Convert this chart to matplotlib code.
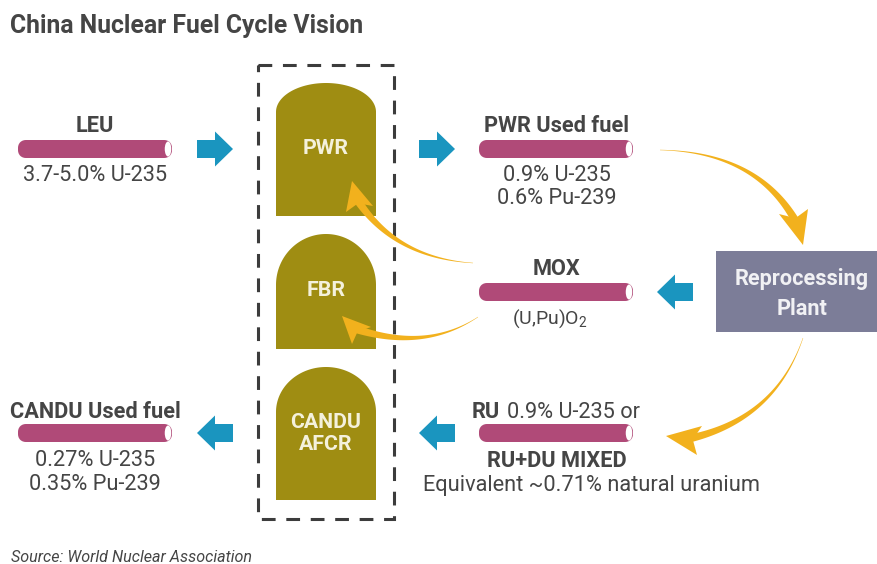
import numpy as np
import matplotlib
matplotlib.use("Agg")
import matplotlib.pyplot as plt
from matplotlib.patches import Polygon, Rectangle, FancyBboxPatch, Ellipse

plt.rcParams['font.family'] = ['Roboto', 'DejaVu Sans']
plt.rcParams['mathtext.fontset'] = 'custom'
plt.rcParams['mathtext.rm'] = 'Roboto'

TXT = '#454545'
ROD = '#b04a78'
BLUE = '#1a95bf'
OLIVE = '#9f8d12'
GOLD = '#f2b11d'
GREY = '#7c7d98'

# rods : left x, top y
rod_x = [18, 479, 479, 479, 18]
rod_y = [140, 140, 283, 424, 424]

# reactors : label, top y, bottom y, shoulder y, label y
reactor_names = ['PWR', 'FBR', 'CANDU\nAFCR']
reactor_top = [83, 234, 367]
reactor_bot = [216, 349, 500]
reactor_shoulder = [112, 285, 412]
reactor_label_y = [149, 291, 433]

# blue arrows : x start (tail), direction, center y
arrow_tail = [197, 419, 693, 233, 455]
arrow_dir = [1, 1, -1, -1, -1]
arrow_y = [149, 149, 292, 433, 433]

# gold curves : start, control, tip, head corner 1, head corner 2
curves = [
    [(660, 150), (758, 152), (796, 214), (803, 245), (779, 214), (808, 209)],
    [(473, 263), (395, 258), (360, 208), (352, 181), (346, 212), (373, 206)],
    [(478, 317), (425, 352), (362, 334), (342, 316), (352, 344), (371, 327)],
    [(803, 338), (775, 420), (702, 440), (666, 436), (702, 426), (697, 455)],
]

# texts : x, y, string, bold, ha, size
labels = [
    (95, 126.5, 'LEU', True, 'center', 15.7),
    (95, 175.5, '3.7-5.0% U-235', False, 'center', 15.7),
    (557, 126.5, 'PWR Used fuel', True, 'center', 15.7),
    (557, 175.5, '0.9% U-235', False, 'center', 15.7),
    (557, 199, '0.6% Pu-239', False, 'center', 15.7),
    (557, 269, 'MOX', True, 'center', 15.7),
    (550, 319, '(U,Pu)O$_2$', False, 'center', 14),
    (472, 412, 'RU', True, 'left', 15.7),
    (507, 412, '0.9% U-235 or', False, 'left', 15.7),
    (557, 461, 'RU+DU MIXED', True, 'center', 15.7),
    (592, 485, 'Equivalent ~0.71% natural uranium', False, 'center', 15.7),
    (95, 412, 'CANDU Used fuel', True, 'center', 15.7),
    (95, 460.5, '0.27% U-235', False, 'center', 15.7),
    (95, 485, '0.35% Pu-239', False, 'center', 15.7),
]

fig = plt.figure(figsize=(8.78, 5.64), dpi=100)
ax = fig.add_axes([0, 0, 1, 1])
ax.set_xlim(0, 878)
ax.set_ylim(564, 0)
ax.axis('off')


def rod(x, y):
    ax.add_patch(FancyBboxPatch((x + 4, y + 4), 146, 10, boxstyle='round,pad=0,rounding_size=4',
                                fc=ROD, ec=ROD, lw=8 / 1.39, zorder=2, joinstyle='round', mutation_aspect=1))
    ax.add_patch(Ellipse((x + 150, y + 9), 6.5, 15, fc='white', ec='none', zorder=3))


def reactor(name, top, bot, shoulder, label_y):
    # dome : half ellipse on a rectangle
    t = np.linspace(np.pi, 0, 80)
    xs = 326 + 50 * np.cos(t)
    ys = shoulder - (shoulder - top) * np.sin(t)
    pts = list(zip(xs, ys)) + [(376, bot), (276, bot)]
    ax.add_patch(Polygon(pts, closed=True, fc=OLIVE, ec='none', zorder=2))
    ax.text(326, label_y, name, color='#f4f1dc', fontsize=15.3, fontweight='bold',
            ha='center', va='center', linespacing=1.2, zorder=4)


def block_arrow(tail, d, y):
    pts = [(tail, y - 9), (tail + d * 18, y - 9), (tail + d * 18, y - 17.5), (tail + d * 36, y),
           (tail + d * 18, y + 17.5), (tail + d * 18, y + 9), (tail, y + 9)]
    ax.add_patch(Polygon(pts, closed=True, fc=BLUE, ec='none', zorder=2))


def gold_curve(c):
    # bezier quadratique, largeur qui augmente vers la tete
    p0, p1, p2, tip, h1, h2 = [np.array(p, float) for p in c]
    mid = (h1 + h2) / 2
    end = mid + 0.35 * (tip - mid)
    u = np.linspace(0, 1, 60)[:, None]
    b = (1 - u) ** 2 * p0 + 2 * u * (1 - u) * p1 + u ** 2 * end
    d = np.gradient(b, axis=0)
    n = np.column_stack([-d[:, 1], d[:, 0]])
    n = n / np.linalg.norm(n, axis=1)[:, None]
    w = 0.2 + 3.8 * u ** 1.3
    left = b + n * w
    right = b - n * w
    ax.add_patch(Polygon(np.vstack([left, right[::-1]]), closed=True, fc=GOLD, ec='none', zorder=5))
    notch = mid + 0.2 * (tip - mid)
    ax.add_patch(Polygon([h1, tip, h2, notch], closed=True, fc=GOLD, ec='none', zorder=5))


for x, y in zip(rod_x, rod_y):
    rod(x, y)
for n, t, b, s, l in zip(reactor_names, reactor_top, reactor_bot, reactor_shoulder, reactor_label_y):
    reactor(n, t, b, s, l)
for t, d, y in zip(arrow_tail, arrow_dir, arrow_y):
    block_arrow(t, d, y)
for c in curves:
    gold_curve(c)

# dashed box
ax.add_patch(Rectangle((258, 65), 136, 454, fc='none', ec='#3c3c3c', lw=2.2,
                       linestyle=(0, (4.5, 3.5)), zorder=3))

# reprocessing
ax.add_patch(Rectangle((716, 251), 162, 81, fc=GREY, ec='none', zorder=2))
ax.text(802, 294, 'Reprocessing\nPlant', color='#f1f1f4', fontsize=15.7, fontweight='bold', ha='center',
        va='center', linespacing=1.5, zorder=4)

# texts
ax.text(10, 26, 'China Nuclear Fuel Cycle Vision', fontsize=17.8, fontweight='bold', color=TXT, va='center')
for x, y, s, bold, ha, size in labels:
    ax.text(x, y, s, fontsize=size, fontweight='bold' if bold else 'normal', color=TXT, ha=ha, va='center')
ax.text(11, 558, 'Source: World Nuclear Association', fontsize=11.65, style='italic', color=TXT, va='center')

fig.savefig('out.png', dpi=100)
